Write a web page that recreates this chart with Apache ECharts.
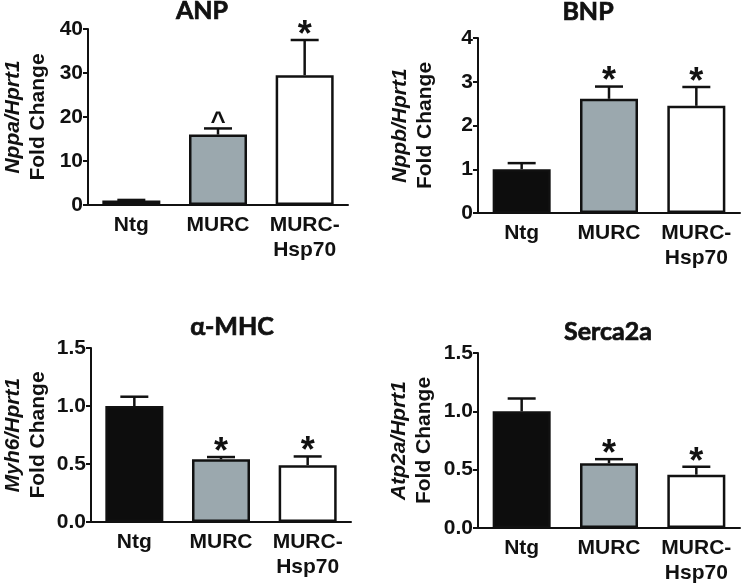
<!DOCTYPE html>
<html>
<head>
<meta charset="utf-8">
<script src="https://cdn.jsdelivr.net/npm/echarts@6/dist/echarts.min.js"></script>
<style>html,body{margin:0;padding:0;background:#fff}#c{width:743px;height:586px}</style>
</head>
<body>
<div id="c"></div>
<script>
const categories = ['Ntg', 'MURC', 'MURC-\nHsp70'];
const barColors = ['#0d0d0d', '#9ba8ae', '#ffffff'];

const anpMean = [1.0, 16.0, 29.5];
const anpSem = [0.15, 1.4, 8.0];
const anpMarks = ['', '^', '*'];

const bnpMean = [1.0, 2.61, 2.45];
const bnpSem = [0.14, 0.28, 0.43];
const bnpMarks = ['', '*', '*'];

const mhcMean = [1.0, 0.54, 0.49];
const mhcSem = [0.08, 0.02, 0.075];
const mhcMarks = ['', '*', '*'];

const sercaMean = [1.0, 0.555, 0.457];
const sercaSem = [0.11, 0.035, 0.068];
const sercaMarks = ['', '*', '*'];

const yTicksANP = {min: 0, max: 40, interval: 10};
const yTicksBNP = {min: 0, max: 4, interval: 1};
const yTicksMHC = {min: 0, max: 1.5, interval: 0.5};
const yTicksSERCA = {min: 0, max: 1.5, interval: 0.5};

const FONT = '"Liberation Sans", Arial, sans-serif';
const TFONT = 'Lato, "Liberation Sans", sans-serif';

const panels = [
  {title: 'ANP', tx: 197, ty: -7, gene: 'Nppa/Hprt1', mean: anpMean, sem: anpSem, marks: anpMarks, y: yTicksANP, dec: 0,
   grid: {left: 86, right: 395, top: 29, bottom: 381}, gap: 37},
  {title: 'BNP', tx: 583, ty: -6, gene: 'Nppb/Hprt1', mean: bnpMean, sem: bnpSem, marks: bnpMarks, y: yTicksBNP, dec: 0,
   grid: {left: 478, right: 3, top: 38, bottom: 373}, gap: 40},
  {title: 'α-MHC', tx: 227, ty: 309, gene: 'Myh6/Hprt1', mean: mhcMean, sem: mhcSem, marks: mhcMarks, y: yTicksMHC, dec: 1,
   grid: {left: 91, right: 392, top: 348, bottom: 64}, gap: 40},
  {title: 'Serca2a', tx: 603, ty: 314, gene: 'Atp2a/Hprt1', mean: sercaMean, sem: sercaSem, marks: sercaMarks, y: yTicksSERCA, dec: 1,
   grid: {left: 478, right: 3, top: 353, bottom: 57}, gap: 41}
];

const option = {
  animation: false,
  backgroundColor: '#fff',
  title: [], grid: [], xAxis: [], yAxis: [], series: []
};

panels.forEach((p, i) => {
  option.title.push({
    text: p.title, left: p.tx, top: p.ty, textAlign: 'center',
    textStyle: {fontFamily: TFONT, fontWeight: 'bold', fontSize: 25, color: '#111',
      textBorderColor: '#111', textBorderWidth: 0.7}
  });
  option.grid.push(Object.assign({containLabel: false}, p.grid));
  option.xAxis.push({
    type: 'category', gridIndex: i, data: categories,
    axisLine: {lineStyle: {color: '#111', width: 2}},
    axisTick: {alignWithLabel: true, length: 5, lineStyle: {color: '#111', width: 2}},
    axisLabel: {interval: 0, margin: 8, fontFamily: FONT, fontWeight: 'bold', fontSize: 21, lineHeight: 25, color: '#111'}
  });
  option.yAxis.push({
    type: 'value', gridIndex: i, min: p.y.min, max: p.y.max, interval: p.y.interval,
    name: '{i|' + p.gene + '}\n{n|Fold Change}',
    nameLocation: 'middle', nameRotate: 90, nameGap: p.gap,
    nameTextStyle: {
      fontFamily: FONT, fontSize: 21, fontWeight: 'bold', color: '#111', lineHeight: 25,
      rich: {
        i: {fontFamily: FONT, fontSize: 21, fontStyle: 'italic', fontWeight: 'bold', color: '#111', lineHeight: 25},
        n: {fontFamily: FONT, fontSize: 21, fontWeight: 'bold', color: '#111', lineHeight: 25}
      }
    },
    splitLine: {show: false},
    axisLine: {show: true, lineStyle: {color: '#111', width: 2}},
    axisTick: {show: true, length: 5, lineStyle: {color: '#111', width: 2}},
    axisLabel: {margin: 5, fontFamily: FONT, fontWeight: 'bold', fontSize: 21, color: '#111',
      formatter: v => v.toFixed(p.dec)}
  });
  option.series.push({
    type: 'bar', xAxisIndex: i, yAxisIndex: i, barWidth: 58,
    data: p.mean.map((v, k) => ({value: v, itemStyle: {color: barColors[k]}})),
    itemStyle: {borderColor: '#111', borderWidth: 2.5}
  });
  option.series.push({
    type: 'custom', xAxisIndex: i, yAxisIndex: i, z: 5,
    data: p.mean.map((v, k) => [k, v, p.sem[k]]),
    renderItem: (params, api) => {
      const k = api.value(0), m = api.value(1), s = api.value(2);
      const top = api.coord([k, m + s]);
      const mid = api.coord([k, m]);
      const hw = 14;
      const mark = p.marks[params.dataIndex];
      const children = [
        {type: 'line', shape: {x1: mid[0], y1: mid[1], x2: top[0], y2: top[1]}, style: {stroke: '#111', lineWidth: 2.5}},
        {type: 'line', shape: {x1: top[0] - hw, y1: top[1], x2: top[0] + hw, y2: top[1]}, style: {stroke: '#111', lineWidth: 2.5}}
      ];
      if (mark) {
        children.push({type: 'text', x: top[0], y: top[1] - (mark === '*' ? 4 : 6),
          style: {text: mark, fill: '#111', align: 'center', verticalAlign: 'middle',
            fontFamily: FONT, fontWeight: 'bold', fontSize: mark === '*' ? 36 : 26}});
      }
      return {type: 'group', children};
    }
  });
});

const chart = echarts.init(document.getElementById('c'), null, {renderer: 'canvas'});
chart.setOption(option);
</script>
</body>
</html>
